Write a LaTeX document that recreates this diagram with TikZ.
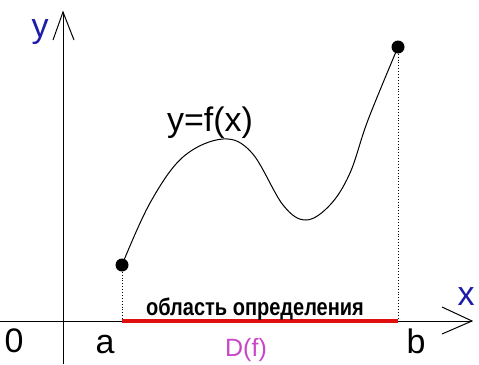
\documentclass[tikz,border=0pt]{standalone}
\usepackage{fontspec}
\setmainfont{Liberation Sans}
\usetikzlibrary{calc}
\definecolor{axisblue}{HTML}{1C1CA8}
\definecolor{domred}{HTML}{E01010}
\definecolor{dfpink}{HTML}{C848C8}

\begin{document}
\begin{tikzpicture}[x=1pt,y=-1pt,
  dot/.style={circle,fill=black,inner sep=0pt,minimum size=13pt},
  axisline/.style={line width=1pt,black},
  guide/.style={dotted,line width=0.9pt},
  big/.style={font=\fontsize{34}{38}\selectfont,inner sep=0pt,anchor=base},
  note/.style={font=\fontsize{20}{24}\selectfont\bfseries,inner sep=0pt,anchor=base}
]
  \useasboundingbox (0,0) rectangle (479,364);
  % axes
  \coordinate (xbeg) at (0,321);
  \coordinate (xend) at (472,321);
  \coordinate (ybeg) at (63,364);
  \coordinate (yend) at (63,12);
  \draw[axisline] (xbeg) -- (xend);
  \draw[axisline] (ybeg) -- (yend);
  \draw[axisline] (442,307) -- (xend) -- (442,334);
  \draw[axisline] (53,40) -- (yend) -- (74,40);
  % end points of the graph
  \node[dot] (pa) at (122,265) {};
  \node[dot] (pb) at (398,47) {};
  \coordinate (qa) at (pa |- xend);
  \coordinate (qb) at (pb |- xend);
  \draw[guide] (pa) -- (qa);
  \draw[guide] (pb) -- (qb);
  % domain
  \draw[domred,line width=4pt] (qa) -- (qb);
  % the function
  \draw[line width=1pt] plot[smooth,tension=0.6] coordinates {
    (122,265) (150,203) (183,157) (223,139) (252,153) (283,205)
    (306,220) (330,205) (350,173) (368,120) (398,47)};
  % labels
  \node[big,text=axisblue] (ylab) at (40,37) {y};
  \node[big,text=axisblue] (xlab) at (466,305) {x};
  \node[big] (olab) at (14,352) {0};
  \node[big] (alab) at (105,353) {a};
  \node[big] (blab) at (416,353) {b};
  \node[big] (flab) at (210,131) {y=f(x)};
  \node[note] (dom) at (255,315) {\scalebox{1}[1.2]{область определения}};
  \node[font=\fontsize{25}{28}\selectfont,inner sep=0pt,anchor=base,text=dfpink] (df) at (246,356) {D(f)};
\end{tikzpicture}
\end{document}
